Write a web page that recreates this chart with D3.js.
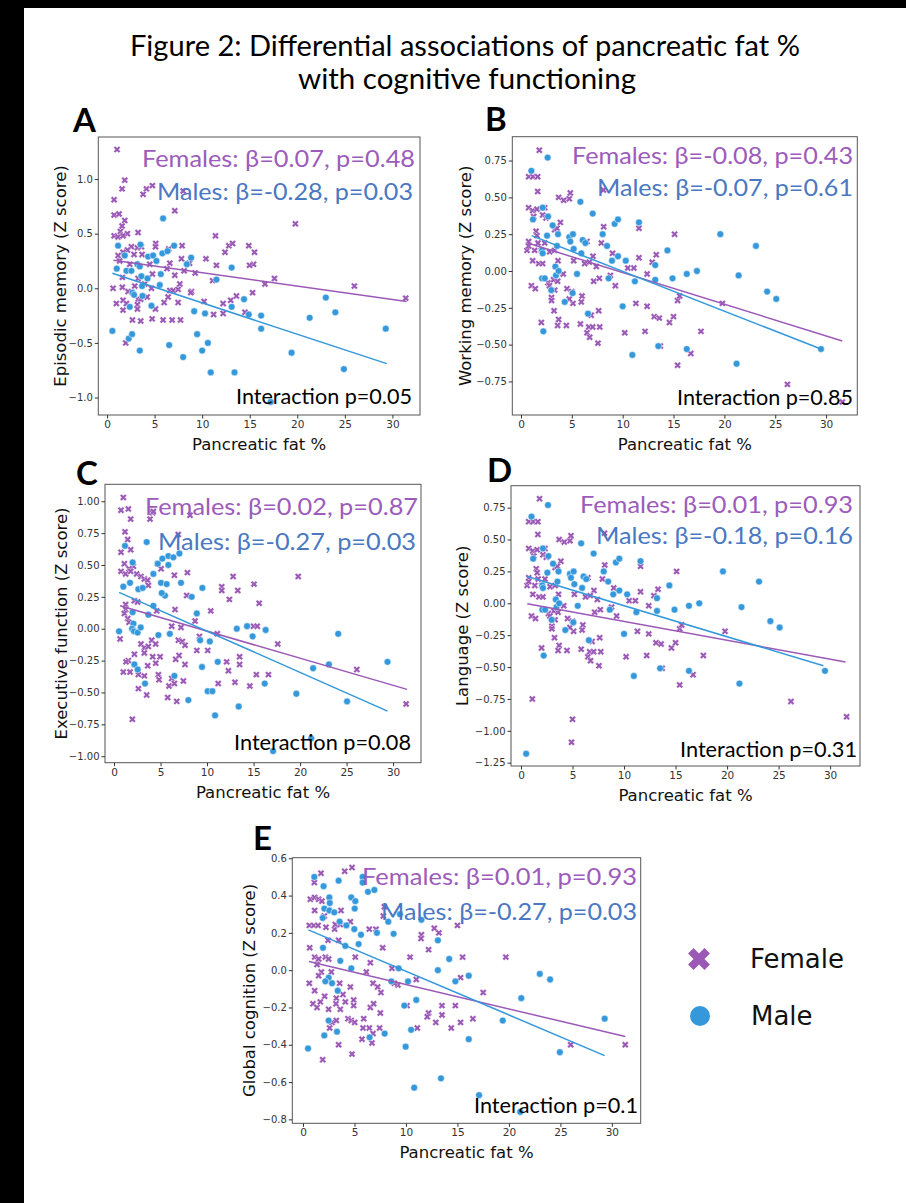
<!DOCTYPE html>
<html>
<head>
<meta charset="utf-8">
<script src="https://cdn.jsdelivr.net/npm/d3@7"></script>
<style>
body { margin: 0; background: #fff; }
</style>
</head>
<body>
<div id="chart"></div>
<script>

//x ticks shared by every panel
const xTicks = [0, 5, 10, 15, 20, 25, 30];

//A: episodic memory
const epiTicks = [-1.0, -0.5, 0.0, 0.5, 1.0];
const epiFemale = [[1.05,1.27],[1.86,0.99],[1.58,0.91],[4.14,0.91],[4.77,0.94],[3.79,0.86],[0.74,0.81],[7.12,0.71],[0.74,0.67],[1.26,0.68],[1.86,0.62],[1.58,0.57],[1.4,0.52],[0.74,0.48],[2.14,0.50],[1.16,0.47],[3.26,0.51],[1.68,0.48],[5.12,0.41],[7.89,0.39],[2.56,0.38],[3.19,0.37],[3.61,0.38],[2.14,0.35],[6.49,0.36],[1.68,0.33],[2.84,0.31],[1.16,0.30],[3.68,0.31],[5.09,0.38],[7.82,0.27],[6.6,0.23],[1.33,0.25],[2.39,0.22],[4.49,0.22],[6.3,0.18],[7.12,0.12],[4.77,0.13],[3.26,0.09],[1.61,0.10],[0.63,0.0],[1.61,0.01],[2.91,0.02],[3.96,0.04],[4.67,0.0],[6.6,-0.02],[6.95,-0.02],[7.47,-0.01],[7.65,0.04],[8.88,-0.03],[2.21,-0.03],[0.98,-0.14],[1.68,-0.11],[2.04,-0.14],[3.26,-0.10],[3.54,-0.10],[4.21,-0.08],[1.68,-0.2],[3.19,-0.15],[3.19,-0.19],[5.09,-0.19],[6.0,-0.13],[6.42,-0.08],[7.47,-0.13],[2.67,-0.29],[3.54,-0.30],[4.74,-0.28],[5.89,-0.29],[6.84,-0.29],[7.72,-0.29],[1.96,-0.50],[8.0,0.89],
    [11.4,0.48],[19.8,0.59],[12.4,0.33],[12.8,0.39],[13.2,0.41],[14.9,0.39],[15.5,0.33],[15.4,0.22],[14.98,0.21],[11.5,0.21],[10.4,0.27],[8.1,0.16],[8.67,0.23],[9.26,0.14],[17.6,0.09],[16.6,0.04],[11.1,0.07],[8.8,-0.04],[10.2,-0.12],[12.2,-0.14],[13.0,-0.11],[13.6,-0.07],[15.3,-0.04],[11.2,-0.24],[12.2,-0.23],[14.5,-0.22],[26.0,0.02],[31.4,-0.09]];
const epiMale = [[5.89,0.64],[1.16,0.39],[3.51,0.40],[7.05,0.39],[1.86,0.30],[4.32,0.29],[4.84,0.30],[5.19,0.25],[5.82,0.32],[6.35,0.34],[1.02,0.18],[2.04,0.16],[2.56,0.16],[3.19,0.22],[3.44,0.20],[5.65,0.13],[3.61,0.11],[4.25,0.09],[5.54,0.03],[3.68,0.02],[2.67,-0.04],[2.84,-0.06],[3.72,-0.07],[4.67,-0.16],[2.39,-0.17],[0.56,-0.39],[2.28,-0.46],[2.63,-0.42],[3.44,-0.57],[6.53,-0.52],[8.0,-0.63],
    [8.39,0.22],[8.84,0.28],[13.1,0.19],[11.5,0.08],[14.4,-0.10],[9.16,-0.21],[10.3,-0.23],[13.1,-0.17],[14.9,-0.24],[16.2,-0.25],[16.2,-0.37],[9.47,-0.42],[10.6,-0.5],[10.0,-0.57],[10.9,-0.77],[13.4,-0.77],[17.2,-1.04],[21.3,-0.27],[19.4,-0.59],[23.0,-0.085],[24.0,-0.22],[24.9,-0.74],[29.3,-0.37]];
const epiFitF = [[0.67,0.256],[31.5,-0.12]];
const epiFitM = [[0.56,0.137],[29.4,-0.69]];

//B: working memory
const wmTicks = [-0.75, -0.5, -0.25, 0.0, 0.25, 0.5, 0.75];
const wmFemale = [[1.8,0.82],[0.75,0.64],[1.18,0.64],[1.64,0.64],[1.64,0.54],[3.7,0.50],[4.2,0.48],[4.75,0.49],[4.85,0.53],[0.75,0.43],[1.15,0.41],[1.57,0.42],[2.33,0.43],[1.25,0.37],[2.13,0.38],[2.46,0.36],[3.87,0.33],[3.31,0.28],[3.54,0.29],[1.48,0.27],[1.57,0.24],[0.75,0.20],[1.67,0.19],[2.33,0.19],[0.59,0.14],[1.34,0.14],[2.0,0.14],[2.82,0.13],[3.31,0.14],[0.75,0.17],[8.13,0.30],[7.9,0.19],[6.49,0.20],[9.0,0.12],[7.08,0.10],[6.72,0.06],[6.26,0.05],[5.18,0.07],[3.64,0.07],[1.15,0.07],[1.74,0.05],[2.13,0.05],[7.41,0.03],[4.15,-0.02],[7.15,-0.07],[7.7,-0.05],[8.79,-0.03],[9.28,-0.10],[1.02,-0.10],[1.41,-0.12],[2.66,-0.08],[3.2,-0.06],[2.8,-0.10],[3.31,-0.13],[3.6,-0.07],[4.52,-0.12],[5.0,-0.14],[3.0,-0.18],[3.0,-0.20],[6.0,-0.17],[5.93,-0.21],[5.11,-0.22],[4.75,-0.19],[3.25,-0.27],[7.64,-0.27],[6.9,-0.30],[2.0,-0.35],[3.7,-0.33],[3.6,-0.37],[4.46,-0.37],[5.84,-0.36],[6.49,-0.42],[6.75,-0.45],[6.66,-0.38],[7.05,-0.38],[7.74,-0.38],[7.57,-0.49],
    [8.1,0.55],[11.6,0.29],[11.6,0.09],[12.9,0.06],[13.3,0.11],[15.1,0.25],[10.5,0.02],[11.1,0.02],[12.4,-0.02],[11.3,-0.22],[12.4,-0.24],[13.1,-0.31],[13.6,-0.32],[14.6,-0.35],[15.0,-0.31],[15.4,-0.20],[15.6,-0.17],[12.2,-0.41],[10.2,-0.42],[13.7,-0.51],[17.7,-0.41],[15.4,-0.64],[16.7,-0.56],[19.8,-0.22],[26.2,-0.77],[31.6,-0.89]];
const wmMale = [[2.62,0.77],[1.02,0.68],[5.84,0.47],[7.05,0.39],[1.18,0.35],[2.13,0.43],[2.66,0.37],[9.21,0.32],[9.54,0.35],[8.03,0.25],[3.11,0.31],[3.64,0.25],[4.75,0.23],[5.11,0.25],[4.85,0.20],[2.56,0.24],[5.18,0.15],[6.07,0.21],[6.33,0.19],[8.46,0.17],[3.54,0.17],[5.93,0.12],[2.07,0.14],[2.13,0.12],[8.95,0.07],[9.54,0.10],[10.3,0.07],[3.38,0.03],[3.44,-0.03],[3.7,0.0],[5.51,-0.02],[2.07,-0.05],[2.34,-0.05],[2.98,-0.13],[5.08,-0.15],[4.3,-0.21],[6.59,-0.29],[8.62,-0.05],[2.2,-0.41],
    [11.6,0.33],[11.2,-0.07],[13.2,0.04],[13.2,-0.06],[14.4,0.14],[14.9,-0.05],[16.3,-0.02],[17.3,0.0],[19.6,0.25],[23.1,0.17],[21.4,-0.03],[24.2,-0.14],[25.1,-0.19],[29.5,-0.53],[21.2,-0.63],[16.3,-0.53],[10.95,-0.57],[10.0,-0.24],[13.5,-0.51]];
const wmFitF = [[0.66,0.19],[31.6,-0.475]];
const wmFitM = [[1.05,0.24],[29.5,-0.53]];

//C: executive function
const execTicks = [-1.0, -0.75, -0.5, -0.25, 0.0, 0.25, 0.5, 0.75, 1.0];
const execFemale = [[1.0,1.03],[0.75,0.93],[1.54,0.94],[1.79,0.86],[3.87,0.86],[4.16,0.91],[1.18,0.76],[1.47,0.70],[0.75,0.60],[1.79,0.62],[1.11,0.51],[2.08,0.49],[1.61,0.47],[0.75,0.45],[1.25,0.43],[1.79,0.45],[2.44,0.43],[2.9,0.41],[3.26,0.39],[3.62,0.38],[3.69,0.34],[4.7,0.51],[5.06,0.47],[6.49,0.42],[7.89,0.44],[7.81,0.26],[2.19,0.22],[2.54,0.21],[1.25,0.19],[1.25,0.15],[1.11,0.12],[1.47,0.08],[1.61,0.05],[0.65,-0.08],[4.59,0.14],[6.56,0.15],[6.2,0.02],[7.2,0.01],[10.4,0.14],[8.71,0.06],[2.9,-0.12],[3.26,-0.15],[3.69,-0.14],[4.05,-0.09],[4.48,-0.12],[6.92,-0.09],[7.35,-0.10],[7.63,-0.13],[3.26,-0.19],[2.19,-0.20],[1.54,-0.25],[1.29,-0.26],[4.16,-0.22],[4.95,-0.22],[3.62,-0.29],[4.48,-0.27],[6.63,-0.24],[6.99,-0.21],[7.63,-0.28],[1.0,-0.34],[1.72,-0.34],[2.62,-0.36],[3.26,-0.37],[4.77,-0.36],[4.84,-0.40],[6.2,-0.39],[7.46,-0.41],[2.62,-0.47],[3.51,-0.52],[5.77,-0.54],[6.74,-0.57],[5.91,-0.45],[6.49,-0.43],[1.97,-0.71],
    [11.58,0.33],[11.58,0.30],[12.4,0.23],[12.8,0.41],[13.3,0.30],[15.05,0.35],[15.6,0.20],[19.8,0.41],[8.9,-0.17],[10.07,-0.17],[11.1,-0.04],[9.18,-0.06],[15.0,0.02],[15.4,0.02],[17.6,-0.12],[12.1,-0.26],[12.3,-0.33],[13.5,-0.22],[13.5,-0.28],[13.0,-0.42],[14.6,-0.45],[15.3,-0.36],[16.6,-0.36],[11.2,-0.43],[26.1,-0.32],[31.4,-0.59],[8.17,0.89],[4.23,0.92],[6.9,0.74]];
const execMale = [[3.51,0.68],[1.18,0.65],[2.0,0.52],[5.84,0.57],[6.38,0.56],[7.03,0.59],[5.2,0.55],[4.7,0.51],[5.84,0.50],[4.23,0.43],[1.72,0.36],[1.0,0.33],[2.62,0.31],[3.08,0.32],[5.05,0.36],[5.66,0.35],[5.48,0.26],[5.13,0.28],[7.2,0.36],[8.35,0.25],[9.5,0.32],[4.23,0.18],[3.69,0.11],[2.0,0.13],[0.54,-0.02],[2.08,0.04],[1.94,0.0],[2.15,-0.02],[2.54,-0.03],[2.87,0.01],[4.77,-0.05],[6.0,-0.04],[8.9,0.12],[9.25,-0.09],[2.19,-0.28],[2.54,-0.32],[3.33,-0.43],[6.49,-0.37],[7.99,-0.56],[9.46,-0.30],[10.07,-0.49],[10.57,-0.49],
    [10.3,-0.10],[11.15,-0.26],[10.86,-0.68],[13.2,0.0],[14.3,0.02],[14.9,-0.06],[16.3,-0.01],[16.2,-0.43],[13.4,-0.61],[17.1,-0.96],[19.6,-0.51],[21.4,-0.31],[23.1,-0.28],[24.1,-0.04],[25.05,-0.57],[29.4,-0.26],[21.2,-0.86]];
const execFitF = [[0.65,0.18],[31.5,-0.476]];
const execFitM = [[0.54,0.285],[29.4,-0.646]];

//D: language (same subjects as B plus the low scorers cut from B)
const langTicks = [-1.25, -1.0, -0.75, -0.5, -0.25, 0.0, 0.25, 0.5, 0.75];
const langFemale = wmFemale.concat([[1.1,-0.75],[5.0,-0.91],[4.9,-1.09]]);
const langMale = wmMale.concat([[0.5,-1.18]]);
const langFitF = [[0.61,-0.003],[31.5,-0.46]];
const langFitM = [[0.61,0.21],[29.35,-0.49]];

//E: global cognition
const globTicks = [-0.8, -0.6, -0.4, -0.2, 0.0, 0.2, 0.4, 0.6];
const globFemale = [[1.75,0.52],[4.76,0.55],[4.05,0.53],[1.1,0.47],[0.71,0.38],[1.13,0.39],[1.52,0.38],[1.84,0.37],[1.13,0.32],[3.69,0.32],[2.07,0.29],[0.61,0.24],[1.04,0.24],[1.46,0.24],[2.23,0.23],[3.07,0.22],[3.14,0.245],[3.62,0.245],[4.6,0.26],[6.44,0.22],[7.09,0.22],[2.43,0.16],[3.46,0.16],[7.74,0.12],[0.65,0.12],[1.13,0.07],[1.52,0.06],[2.17,0.07],[2.49,0.06],[1.36,0.03],[5.08,0.07],[6.54,0.04],[1.78,-0.01],[1.52,-0.03],[2.75,-0.01],[0.61,-0.07],[3.56,-0.07],[4.6,-0.09],[6.15,-0.01],[1.13,-0.11],[2.1,-0.14],[6.8,-0.07],[7.25,-0.09],[7.57,-0.12],[8.64,0.01],[9.22,-0.08],[0.97,-0.18],[1.36,-0.20],[1.68,-0.17],[2.49,-0.21],[3.24,-0.15],[3.2,-0.18],[3.62,-0.21],[4.11,-0.17],[3.88,-0.13],[4.92,-0.16],[4.92,-0.19],[6.54,-0.20],[6.86,-0.18],[7.51,-0.23],[2.82,-0.28],[3.24,-0.27],[4.37,-0.26],[4.69,-0.27],[5.02,-0.28],[5.9,-0.26],[5.83,-0.31],[6.44,-0.31],[7.44,-0.31],[6.8,-0.34],[5.73,-0.37],[6.7,-0.39],[3.46,-0.40],[4.76,-0.45],[1.91,-0.48],[2.59,-0.31],
    [7.9,0.34],[7.8,0.29],[12.75,0.225],[13.2,0.20],[11.5,0.19],[11.46,0.17],[12.2,0.11],[15.0,0.24],[10.4,0.07],[15.5,0.07],[19.7,0.07],[17.5,-0.12],[15.3,-0.04],[11.0,-0.05],[8.87,-0.07],[10.1,-0.19],[13.5,-0.19],[14.8,-0.19],[13.5,-0.24],[12.2,-0.23],[12.07,-0.25],[12.9,-0.28],[11.1,-0.31],[14.4,-0.31],[15.3,-0.28],[16.5,-0.26],[26.0,-0.40],[31.3,-0.40]];
const globMale = [[1.1,0.50],[2.0,0.45],[3.46,0.48],[5.79,0.50],[5.79,0.47],[6.31,0.42],[6.93,0.43],[2.56,0.39],[2.6,0.36],[4.69,0.39],[5.08,0.37],[2.07,0.33],[2.56,0.32],[3.04,0.31],[5.02,0.33],[1.91,0.28],[3.56,0.26],[4.21,0.24],[4.98,0.22],[5.63,0.19],[7.18,0.20],[8.8,0.195],[4.11,0.13],[5.4,0.14],[1.94,0.12],[3.62,0.05],[4.69,0.01],[2.49,-0.04],[2.17,-0.06],[2.82,-0.07],[3.37,-0.11],[8.58,-0.06],[9.29,0.01],[9.84,-0.19],[2.49,-0.27],[3.3,-0.33],[2.07,-0.35],[7.93,-0.34],[6.47,-0.36],[0.49,-0.42],
    [8.28,0.26],[9.42,0.30],[11.5,0.27],[13.1,0.16],[13.1,0.0],[14.2,0.06],[14.8,-0.06],[16.1,-0.03],[10.2,-0.06],[11.0,-0.16],[10.5,-0.32],[9.97,-0.41],[16.1,-0.37],[13.4,-0.58],[10.8,-0.63],[17.1,-0.67],[21.1,-0.76],[19.4,-0.27],[21.2,-0.15],[23.0,-0.02],[24.0,-0.05],[24.95,-0.44],[29.3,-0.26]];
const globFitF = [[0.58,0.047],[31.3,-0.356]];
const globFitM = [[0.52,0.216],[29.3,-0.458]];

//colours
const femaleColor = "#9b59b6";
const maleColor = "#3498db";
const femaleText = "#9d5cbb";
const maleText = "#4a78c2";

const width = 906;
const height = 1203;

const svg = d3.select("#chart")
    .append("svg")
    .attr("width", width)
    .attr("height", height)
    .style("font-family", "'DejaVu Sans', sans-serif");

svg.append("rect").attr("width", width).attr("height", height).attr("fill", "#fff");

//black strips of the scanned page
svg.append("rect").attr("x", 0).attr("y", 0).attr("width", 24).attr("height", height).attr("fill", "#000");
svg.append("rect").attr("x", 0).attr("y", 0).attr("width", width).attr("height", 8).attr("fill", "#000");

//title
svg.append("text")
    .attr("x", 465).attr("y", 56)
    .attr("text-anchor", "middle")
    .attr("font-family", "Lato, sans-serif")
    .attr("font-size", "29px")
    .attr("textLength", 670).attr("lengthAdjust", "spacingAndGlyphs")
    .text("Figure 2: Differential associations of pancreatic fat %");
svg.append("text")
    .attr("x", 467).attr("y", 89)
    .attr("text-anchor", "middle")
    .attr("font-family", "Lato, sans-serif")
    .attr("font-size", "29px")
    .attr("textLength", 338).attr("lengthAdjust", "spacingAndGlyphs")
    .text("with cognitive functioning");

const panels = [
    {id: "A", letter: [73, 132], box: [98.3, 137, 420, 415], xd: [-0.92, 32.9], yd: [-1.16, 1.385],
     yTicks: epiTicks, fmt: ".1f", ylabel: "Episodic memory (Z score)", ylx: 60,
     female: epiFemale, male: epiMale, fitF: epiFitF, fitM: epiFitM,
     fText: ["Females: β=0.07, p=0.48", 415, 167, 273], mText: ["Males: β=-0.28, p=0.03", 413, 200, 256],
     iText: ["Interaction p=0.05", 412, 404, 176]},
    {id: "B", letter: [485, 131], box: [512.3, 136.7, 857.3, 415], xd: [-0.855, 33.07], yd: [-0.978, 0.912],
     yTicks: wmTicks, fmt: ".2f", ylabel: "Working memory (Z score)", ylx: 465,
     female: wmFemale, male: wmMale, fitF: wmFitF, fitM: wmFitM,
     fText: ["Females: β=-0.08, p=0.43", 853, 164, 281], mText: ["Males: β=-0.07, p=0.61", 853, 196, 256],
     iText: ["Interaction p=0.85", 853, 405, 176]},
    {id: "C", letter: [76, 485], box: [105, 484.3, 421, 762.7], xd: [-0.97, 33.0], yd: [-1.051, 1.133],
     yTicks: execTicks, fmt: ".2f", ylabel: "Executive function (Z score)", ylx: 61,
     female: execFemale, male: execMale, fitF: execFitF, fitM: execFitM,
     fText: ["Females: β=0.02, p=0.87", 418, 515, 273], mText: ["Males: β=-0.27, p=0.03", 416, 550, 258],
     iText: ["Interaction p=0.08", 411, 750, 177]},
    {id: "D", letter: [487, 482], box: [511, 485.7, 860, 766], xd: [-0.97, 32.9], yd: [-1.276, 0.922],
     yTicks: langTicks, fmt: ".2f", ylabel: "Language (Z score)", ylx: 462,
     female: langFemale, male: langMale, fitF: langFitF, fitM: langFitM,
     fText: ["Females: β=0.01, p=0.93", 853, 513, 273], mText: ["Males: β=-0.18, p=0.16", 853, 544, 257],
     iText: ["Interaction p=0.31", 857, 757, 177]},
    {id: "E", letter: [253, 850], box: [292.3, 857.7, 640.7, 1123.3], xd: [-1.04, 32.8], yd: [-0.821, 0.603],
     yTicks: globTicks, fmt: ".1f", ylabel: "Global cognition (Z score)", ylx: 249,
     female: globFemale, male: globMale, fitF: globFitF, fitM: globFitM,
     fText: ["Females: β=0.01, p=0.93", 637, 885, 275], mText: ["Males: β=-0.27, p=0.03", 637, 920, 256],
     iText: ["Interaction p=0.1", 638, 1113, 164]}
];

const femaleSymbol = d3.symbol().type(d3.symbolCross).size(30);

panels.forEach(drawPanel);

function drawPanel(p) {
    const left = p.box[0], top = p.box[1], right = p.box[2], bottom = p.box[3];

    const xScale = d3.scaleLinear().domain(p.xd).range([left, right]);
    const yScale = d3.scaleLinear().domain(p.yd).range([bottom, top]);

    const g = svg.append("g");

    g.append("clipPath").attr("id", "clip" + p.id)
        .append("rect")
        .attr("x", left).attr("y", top)
        .attr("width", right - left).attr("height", bottom - top);

    const plot = g.append("g").attr("clip-path", "url(#clip" + p.id + ")");

    //female x markers
    plot.selectAll(".f")
        .data(p.female)
        .enter()
        .append("path")
        .attr("d", femaleSymbol)
        .attr("transform", function(d) {
            return "translate(" + xScale(d[0]) + "," + yScale(d[1]) + ") rotate(45)";
        })
        .attr("fill", femaleColor)
        .attr("stroke", "#fff")
        .attr("stroke-width", 0.4);

    //male dots
    plot.selectAll(".m")
        .data(p.male)
        .enter()
        .append("circle")
        .attr("cx", function(d) {return xScale(d[0])})
        .attr("cy", function(d) {return yScale(d[1])})
        .attr("r", 3.4)
        .attr("fill", maleColor)
        .attr("stroke", "#fff")
        .attr("stroke-width", 0.5);

    //fit lines
    const line = d3.line()
        .x(function(d) {return xScale(d[0])})
        .y(function(d) {return yScale(d[1])});

    plot.append("path").datum(p.fitF)
        .attr("d", line).attr("fill", "none")
        .attr("stroke", femaleColor).attr("stroke-width", 1.5);
    plot.append("path").datum(p.fitM)
        .attr("d", line).attr("fill", "none")
        .attr("stroke", maleColor).attr("stroke-width", 1.5);

    //frame
    g.append("rect")
        .attr("x", left).attr("y", top)
        .attr("width", right - left).attr("height", bottom - top)
        .attr("fill", "none")
        .attr("stroke", "#555")
        .attr("stroke-width", 1);

    //x axis
    const xAxis = g.append("g")
        .attr("transform", "translate(0," + bottom + ")")
        .call(d3.axisBottom(xScale).tickValues(xTicks).tickSize(3.5).tickPadding(2).tickFormat(d3.format("d")));
    xAxis.select(".domain").remove();
    xAxis.selectAll("line").attr("stroke", "#333");
    xAxis.selectAll("text")
        .attr("fill", "#333")
        .style("font-size", "10.5px")
        .style("font-family", "'DejaVu Sans', sans-serif");

    //y axis
    const yAxis = g.append("g")
        .attr("transform", "translate(" + left + ",0)")
        .call(d3.axisLeft(yScale).tickValues(p.yTicks).tickSize(3.5).tickPadding(2).tickFormat(d3.format(p.fmt)));
    yAxis.select(".domain").remove();
    yAxis.selectAll("line").attr("stroke", "#333");
    yAxis.selectAll("text")
        .attr("fill", "#333")
        .style("font-size", "10px")
        .style("font-family", "'DejaVu Sans', sans-serif");

    //axis labels
    g.append("text")
        .attr("x", (left + right) / 2)
        .attr("y", bottom + 35)
        .attr("text-anchor", "middle")
        .attr("font-size", "16.5px")
        .attr("fill", "#111")
        .text("Pancreatic fat %");

    g.append("text")
        .attr("transform", "translate(" + (p.ylx + 6) + "," + ((top + bottom) / 2) + ") rotate(-90)")
        .attr("text-anchor", "middle")
        .attr("font-size", "16.5px")
        .attr("fill", "#111")
        .text(p.ylabel);

    //stats text
    [[p.fText, femaleText, 24], [p.mText, maleText, 24], [p.iText, "#000", 21]].forEach(function(t) {
        g.append("text")
            .attr("x", t[0][1]).attr("y", t[0][2])
            .attr("text-anchor", "end")
            .attr("font-family", "Lato, sans-serif")
            .attr("font-size", t[2] + "px")
            .attr("fill", t[1])
            .attr("textLength", t[0][3]).attr("lengthAdjust", "spacingAndGlyphs")
            .text(t[0][0]);
    });

    //panel letter
    g.append("text")
        .attr("x", p.letter[0]).attr("y", p.letter[1])
        .attr("font-family", "Lato, sans-serif")
        .attr("font-weight", "bold")
        .attr("font-size", "33px")
        .attr("fill", "#000")
        .text(p.id);
}

//legend
const legend = svg.append("g");
legend.append("path")
    .attr("d", d3.symbol().type(d3.symbolCross).size(300))
    .attr("transform", "translate(699,959) rotate(45)")
    .attr("fill", femaleColor);
legend.append("text")
    .attr("x", 750).attr("y", 968)
    .attr("font-size", "26px")
    .attr("fill", "#111")
    .text("Female");
legend.append("circle")
    .attr("cx", 700).attr("cy", 1016)
    .attr("r", 10)
    .attr("fill", maleColor);
legend.append("text")
    .attr("x", 751).attr("y", 1025)
    .attr("font-size", "26px")
    .attr("fill", "#111")
    .text("Male");

</script>
</body>
</html>
